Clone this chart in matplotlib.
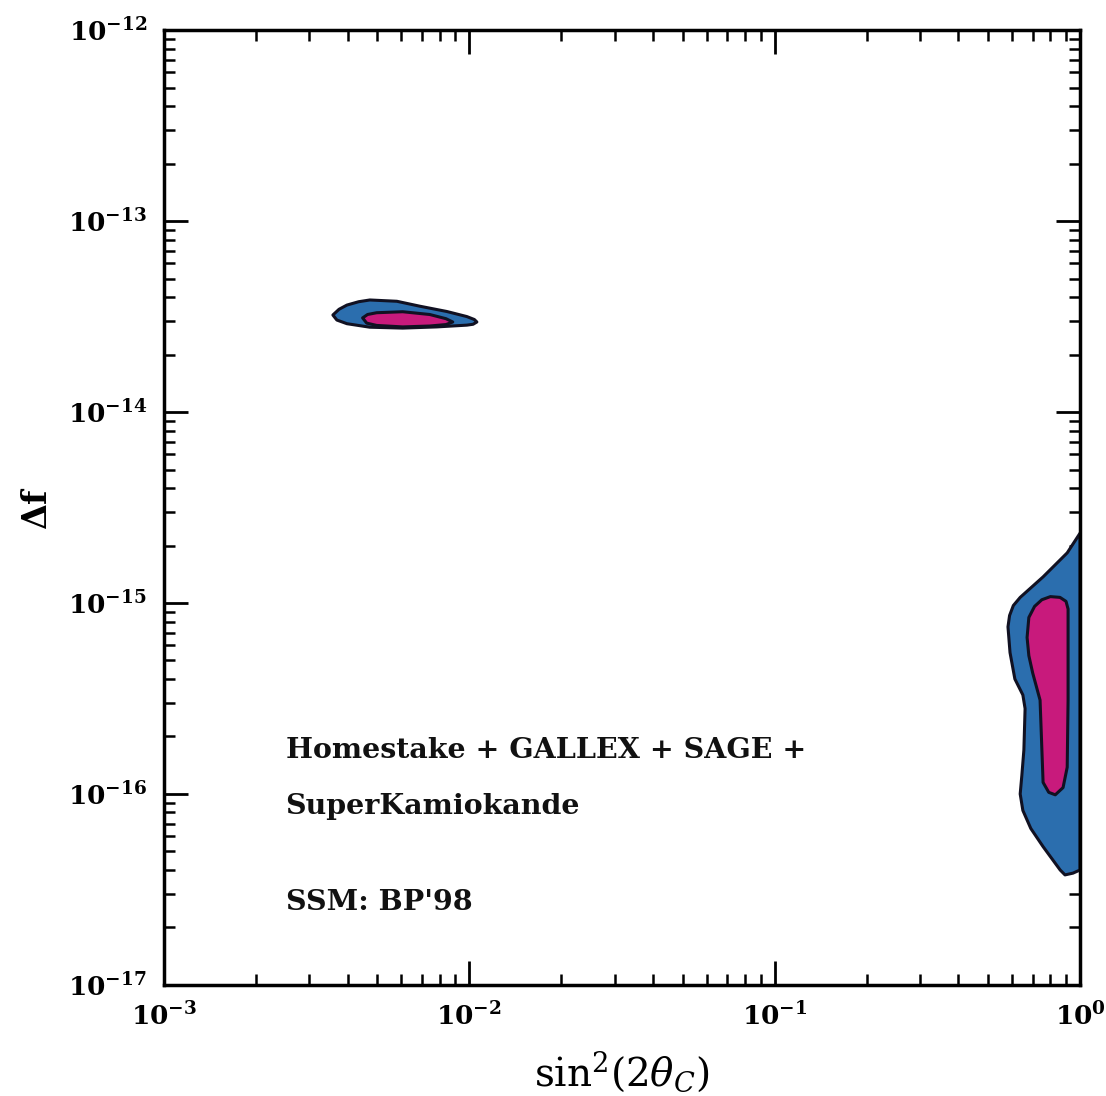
import matplotlib
matplotlib.use("Agg")
import matplotlib.pyplot as plt
from matplotlib.patches import Polygon
import numpy as np

# ---- data ----
# island region, outer (blue) contour
island_outer_x = [3.58e-3, 3.75e-3, 3.98e-3, 4.35e-3, 4.73e-3, 5.80e-3, 6.90e-3, 8.45e-3, 9.83e-3,
                  1.04e-2, 1.06e-2, 1.03e-2, 9.83e-3, 7.84e-3, 6.06e-3, 4.73e-3, 3.98e-3, 3.69e-3]
island_outer_y = [3.22e-14, 3.45e-14, 3.63e-14, 3.78e-14, 3.86e-14, 3.80e-14, 3.58e-14, 3.36e-14, 3.16e-14,
                  3.05e-14, 2.96e-14, 2.88e-14, 2.85e-14, 2.79e-14, 2.75e-14, 2.78e-14, 2.90e-14, 3.03e-14]
# island region, inner (magenta) contour
island_inner_x = [4.48e-3, 4.65e-3, 4.98e-3, 6.06e-3, 7.43e-3, 8.40e-3, 8.84e-3, 8.40e-3, 7.43e-3,
                  6.06e-3, 4.98e-3, 4.62e-3]
island_inner_y = [3.11e-14, 3.24e-14, 3.31e-14, 3.35e-14, 3.24e-14, 3.08e-14, 2.96e-14, 2.87e-14, 2.82e-14,
                  2.79e-14, 2.84e-14, 2.92e-14]

# large mixing region, outer (blue) contour
large_outer_x = [1.0, 0.908, 0.757, 0.637, 0.605, 0.588, 0.581, 0.590, 0.612, 0.650, 0.661, 0.655,
                 0.645, 0.637, 0.650, 0.690, 0.757, 0.861, 0.893, 0.948, 1.0]
large_outer_y = [2.32e-15, 1.83e-15, 1.37e-15, 1.07e-15, 9.7e-16, 8.6e-16, 7.5e-16, 5.5e-16, 4.0e-16,
                 3.3e-16, 2.8e-16, 1.7e-16, 1.25e-16, 1.0e-16, 8.2e-17, 6.6e-17, 5.3e-17, 4.0e-17,
                 3.77e-17, 3.85e-17, 4.0e-17]
# large mixing region, inner (magenta) contour
large_inner_x = [0.800, 0.860, 0.900, 0.914, 0.914, 0.908, 0.880, 0.830, 0.790, 0.757, 0.740,
                 0.700, 0.680, 0.671, 0.680, 0.710, 0.750]
large_inner_y = [1.08e-15, 1.07e-15, 1.02e-15, 9.3e-16, 3.1e-16, 1.38e-16, 1.08e-16, 9.9e-17, 1.02e-16,
                 1.15e-16, 3.1e-16, 4.3e-16, 5.3e-16, 6.6e-16, 8.4e-16, 9.6e-16, 1.04e-15]

x_ticks = [1e-3, 1e-2, 1e-1, 1e0]
x_tick_labels = [r"$\mathbf{10^{-3}}$", r"$\mathbf{10^{-2}}$", r"$\mathbf{10^{-1}}$", r"$\mathbf{10^{0}}$"]
y_ticks = [1e-17, 1e-16, 1e-15, 1e-14, 1e-13, 1e-12]
y_tick_labels = [r"$\mathbf{10^{-17}}$", r"$\mathbf{10^{-16}}$", r"$\mathbf{10^{-15}}$",
                 r"$\mathbf{10^{-14}}$", r"$\mathbf{10^{-13}}$", r"$\mathbf{10^{-12}}$"]

annotation_lines = ["Homestake + GALLEX + SAGE +", "SuperKamiokande", "SSM: BP'98"]

# ---- styling ----
plt.rcParams["mathtext.fontset"] = "dejavuserif"
plt.rcParams["font.family"] = ["DejaVu Serif"]

BLUE = "#2b6eae"
MAGENTA = "#c81a7c"
EDGE = "#111122"

fig = plt.figure(figsize=(11.06, 10.96), dpi=100)
ax = fig.add_axes([0.148, 0.1013, 0.8285, 0.8713])
ax.set_xscale("log")
ax.set_yscale("log")
ax.set_xlim(1e-3, 1e0)
ax.set_ylim(1e-17, 1e-12)

def region(xs, ys, color):
    poly = Polygon(np.column_stack([xs, ys]), closed=True, facecolor=color,
                   edgecolor=EDGE, linewidth=2.2, joinstyle="round", zorder=2)
    ax.add_patch(poly)

region(island_outer_x, island_outer_y, BLUE)
region(island_inner_x, island_inner_y, MAGENTA)
region(large_outer_x, large_outer_y, BLUE)
region(large_inner_x, large_inner_y, MAGENTA)

ax.set_xticks(x_ticks)
ax.set_xticklabels(x_tick_labels)
ax.set_yticks(y_ticks)
ax.set_yticklabels(y_tick_labels)
ax.tick_params(which="major", direction="in", length=17, width=2, top=True, right=True,
               labelsize=19, pad=12)
ax.tick_params(which="minor", direction="in", length=8, width=1.8, top=True, right=True)
for s in ax.spines.values():
    s.set_linewidth(2.5)
    s.set_zorder(5)

ax.set_xlabel(r"$\mathrm{sin}^2(2\theta_C)$", fontsize=28, labelpad=14)
ax.set_ylabel(r"$\mathbf{\Delta f}$", fontsize=24, labelpad=10)

ys_text = [0.246, 0.187, 0.086]
for line, yt in zip(annotation_lines, ys_text):
    ax.text(0.133, yt, line, transform=ax.transAxes, fontsize=20.5, fontweight="bold",
            family="DejaVu Serif", va="center", ha="left", color="#111111")

fig.savefig("out.png", dpi=100)
